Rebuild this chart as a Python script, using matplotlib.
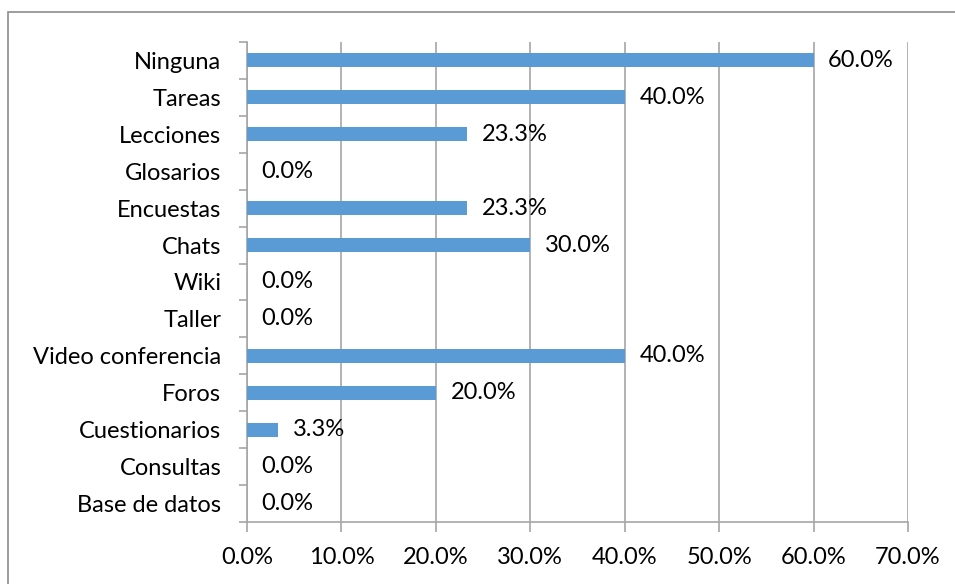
import matplotlib
matplotlib.use('Agg')
import matplotlib.pyplot as plt
import numpy as np
from matplotlib.patches import Rectangle

categories = ['Ninguna', 'Tareas', 'Lecciones', 'Glosarios', 'Encuestas', 'Chats',
              'Wiki', 'Taller', 'Video conferencia', 'Foros', 'Cuestionarios',
              'Consultas', 'Base de datos']
values = [60.0, 40.0, 23.3, 0.0, 23.3, 30.0, 0.0, 0.0, 40.0, 20.0, 3.3, 0.0, 0.0]
x_ticks = [0, 10, 20, 30, 40, 50, 60, 70]

plt.rcParams['font.family'] = ['Lato', 'DejaVu Sans']
grey = '#a6a6a6'
fs = 17

fig = plt.figure(figsize=(9.55, 5.84), dpi=100)
ax = fig.add_axes([247/955, 1 - 522/584, (908 - 247)/955, (522 - 42)/584])

# outer chart border (right and bottom edges fall outside the image)
fig.patches.append(Rectangle((8/955, -0.05), 1.1, 1 - 12/584 + 0.05,
                             transform=fig.transFigure, fill=False,
                             edgecolor='#8c8c8c', linewidth=1.2))

y = np.arange(len(categories))
ax.barh(y, values, height=0.38, color='#5b9bd5', zorder=3)

for yi, v in zip(y, values):
    ax.annotate(f'{v:.1f}%', (v, yi), xytext=(10.5, 0), textcoords='offset points',
                ha='left', va='center', fontsize=fs, color='black')

ax.set_ylim(len(categories) - 0.5, -0.5)
ax.set_xlim(0, 70)
ax.set_yticks(y)
ax.set_yticklabels(categories, fontsize=fs)
ax.set_yticks(np.arange(len(categories) + 1) - 0.5, minor=True)
ax.tick_params(axis='y', which='major', length=0, pad=18.5)
ax.tick_params(axis='y', which='minor', length=6, color=grey, width=1.2)

ax.set_xticks(x_ticks)
ax.set_xticklabels([f'{t:.1f}%' for t in x_ticks], fontsize=fs)
ax.tick_params(axis='x', length=7, color=grey, width=1.2, pad=11)

ax.grid(axis='x', color=grey, linewidth=1.2, zorder=0)
for side in ['top', 'right']:
    ax.spines[side].set_visible(False)
for side in ['left', 'bottom']:
    ax.spines[side].set_color(grey)
    ax.spines[side].set_linewidth(1.2)

fig.savefig('out.png', dpi=100)
